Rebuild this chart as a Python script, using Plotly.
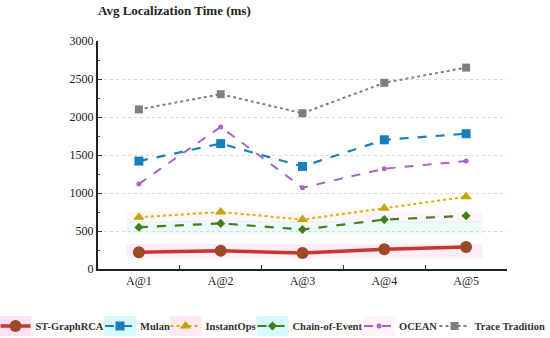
import plotly.graph_objects as go

categories = ["A@1", "A@2", "A@3", "A@4", "A@5"]
st_graphrca = [220, 240, 210, 260, 290]
mulan = [1420, 1650, 1350, 1700, 1780]
instantops = [680, 750, 650, 800, 950]
chain_of_event = [550, 600, 520, 650, 700]
ocean = [1120, 1870, 1070, 1320, 1420]
trace_tradition = [2100, 2300, 2050, 2450, 2650]
y_ticks = [0, 500, 1000, 1500, 2000, 2500, 3000]

SERIF = "Liberation Serif, Times New Roman, serif"
W, H = 550, 338
ML, MR, MT, MB = 98, 43, 41, 69
PW, PH = W - ML - MR, H - MT - MB

fig = go.Figure()

# faint highlight bands behind some series
fig.add_shape(type="rect", xref="x", yref="y", x0=-0.15, x1=4.2,
              y0=min(st_graphrca) - 70, y1=max(st_graphrca) + 40,
              fillcolor="rgba(255,150,220,0.18)", line_width=0, layer="below")
fig.add_shape(type="rect", xref="x", yref="y", x0=-0.15, x1=4.2,
              y0=min(chain_of_event) - 60, y1=min(chain_of_event) + 110,
              fillcolor="rgba(150,240,240,0.18)", line_width=0, layer="below")
fig.add_shape(type="rect", xref="x", yref="y", x0=-0.15, x1=4.2,
              y0=min(instantops) - 40, y1=min(instantops) + 110,
              fillcolor="rgba(255,170,230,0.12)", line_width=0, layer="below")

series = [
    ("ST-GraphRCA", st_graphrca, dict(color="#c8372a", width=3.5, dash="solid"),
     dict(symbol="circle", size=12, color="#9a4a25")),
    ("Mulan", mulan, dict(color="#1a7fbf", width=2.2, dash="dash"),
     dict(symbol="square", size=9, color="#1a7fbf")),
    ("InstantOps", instantops, dict(color="#d4b400", width=2, dash="dot"),
     dict(symbol="triangle-up", size=10, color="#c4a400")),
    ("Chain-of-Event", chain_of_event, dict(color="#3f7f1e", width=2.2, dash="dash"),
     dict(symbol="diamond", size=7, color="#3f7f1e")),
    ("OCEAN", ocean, dict(color="#a864c8", width=2, dash="dash"),
     dict(symbol="circle", size=5, color="#a864c8")),
    ("Trace Tradition", trace_tradition, dict(color="#7f7f7f", width=2, dash="dot"),
     dict(symbol="square", size=8, color="#7f7f7f")),
]

# legend placement (pixel left edge of each legend entry) and symbol highlight colours
legend_left_px = [-4.5, 100, 165.5, 252.5, 359, 434.5]
legend_bg = ["rgba(255,170,230,0.35)", "rgba(140,235,245,0.35)", "rgba(255,180,230,0.3)",
             "rgba(140,235,245,0.35)", "rgba(255,220,245,0.3)", None]
legend_y_px = 326

layout_legends = {}
for i, (name, vals, line, marker) in enumerate(series):
    lid = "legend" if i == 0 else f"legend{i + 1}"
    fig.add_trace(go.Scatter(x=categories, y=vals, name=name, mode="lines+markers",
                             line=line, marker=marker, legend=lid))
    layout_legends[lid] = dict(
        orientation="h", xref="paper", yref="paper",
        x=(legend_left_px[i] - ML) / PW, xanchor="left",
        y=(MT + PH - legend_y_px) / PH, yanchor="middle",
        bgcolor="rgba(0,0,0,0)", borderwidth=0, itemwidth=30,
        font=dict(family=SERIF, size=10.5, color="#333", weight="bold"),
    )
    if legend_bg[i]:
        x0 = (legend_left_px[i] + 4 - ML) / PW
        x1 = (legend_left_px[i] + 36 - ML) / PW
        fig.add_shape(type="rect", xref="paper", yref="paper", x0=x0, x1=x1,
                      y0=(MT + PH - legend_y_px - 10) / PH,
                      y1=(MT + PH - legend_y_px + 10) / PH,
                      fillcolor=legend_bg[i], line_width=0, layer="below")

fig.update_layout(
    width=W, height=H,
    margin=dict(l=ML, r=MR, t=MT, b=MB, autoexpand=False),
    paper_bgcolor="white", plot_bgcolor="white",
    font=dict(family=SERIF, size=12, color="#222"),
    title=dict(text="<b>Avg Localization Time (ms)</b>", x=ML / W, xanchor="left",
               y=1 - 10 / H, yanchor="middle", font=dict(family=SERIF, size=13, color="#222")),
    showlegend=True,
    **layout_legends,
)
fig.update_xaxes(type="category", range=[-0.5, 4.5], tickson="boundaries",
                 ticks="inside", ticklen=4, tickcolor="#333",
                 showline=True, linecolor="#222", linewidth=2, showgrid=False,
                 tickfont=dict(family=SERIF, size=12, color="#222"))
fig.update_yaxes(range=[0, 3000], tickvals=y_ticks, ticks="inside", ticklen=4,
                 tickcolor="#333", showline=True, linecolor="#222", linewidth=2,
                 showgrid=True, gridcolor="#d8d8d8", griddash="dot", gridwidth=1,
                 zeroline=False,
                 minor=dict(ticks="inside", ticklen=2, dtick=250, tickcolor="#555", showgrid=False),
                 tickfont=dict(family=SERIF, size=12, color="#222"))

fig.write_html("out.html", config={"displayModeBar": False},
               post_script="document.body.style.margin='0';document.body.style.padding='0';")
